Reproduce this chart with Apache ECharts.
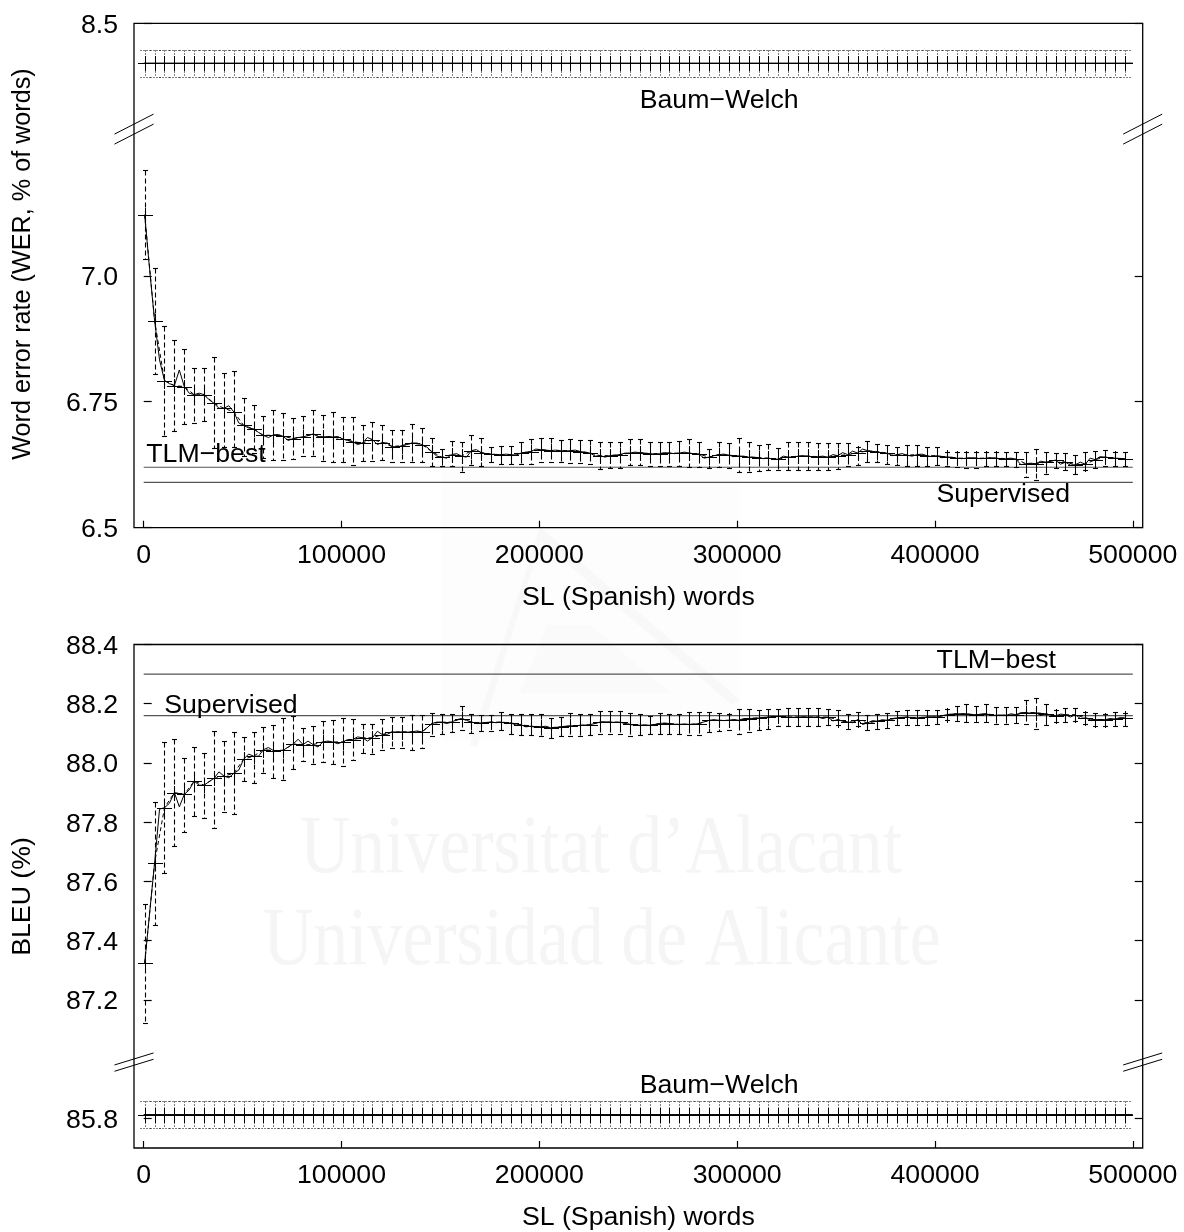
<!DOCTYPE html>
<html>
<head>
<meta charset="utf-8">
<style>html,body{margin:0;padding:0;background:#fff}#c{width:1184px;height:1232px}</style>
<script src="https://cdn.jsdelivr.net/npm/echarts@6/dist/echarts.min.js"></script>
</head>
<body>
<div id="c"></div>
<script>
const xs=[500,5505,10510,15515,20520,25525,30530,35535,40540,45545,
50550,55555,60560,65565,70570,75575,80580,85585,90590,95595,
100600,105605,110610,115615,120620,125625,130630,135635,140640,145645,
150650,155655,160660,165665,170670,175675,180680,185685,190690,195695,
200700,205705,210710,215715,220720,225725,230730,235735,240740,245745,
250750,255755,260760,265765,270770,275775,280780,285785,290790,295795,
300800,305805,310810,315815,320820,325825,330830,335835,340840,345845,
350850,355855,360860,365865,370870,375875,380880,385885,390890,395895,
400900,405905,410910,415915,420920,425925,430930,435935,440940,445945,
450950,455955,460960,465965,470970,475975,480980,485985,490990,495995];

const werMean=[7.121,6.911,6.792,6.782,6.780,6.764,6.764,6.747,6.737,6.730,
6.703,6.696,6.683,6.684,6.681,6.677,6.680,6.686,6.680,6.680,
6.676,6.671,6.668,6.675,6.669,6.661,6.663,6.668,6.665,6.651,
6.640,6.645,6.642,6.653,6.649,6.646,6.645,6.645,6.648,6.651,
6.655,6.653,6.653,6.653,6.651,6.648,6.643,6.643,6.645,6.648,
6.649,6.647,6.647,6.648,6.648,6.648,6.646,6.640,6.645,6.644,
6.642,6.640,6.639,6.638,6.636,6.640,6.642,6.642,6.641,6.640,
6.643,6.645,6.648,6.653,6.651,6.648,6.645,6.644,6.645,6.643,
6.643,6.640,6.638,6.638,6.638,6.638,6.638,6.637,6.636,6.627,
6.627,6.630,6.634,6.630,6.625,6.626,6.635,6.640,6.638,6.637];
const werHi=[7.209,7.015,6.901,6.872,6.854,6.817,6.816,6.838,6.808,6.810,
6.757,6.743,6.721,6.733,6.728,6.718,6.721,6.733,6.724,6.730,
6.720,6.720,6.703,6.709,6.703,6.694,6.694,6.705,6.698,6.679,
6.657,6.673,6.670,6.684,6.679,6.661,6.663,6.663,6.670,6.676,
6.678,6.678,6.674,6.676,6.674,6.675,6.671,6.670,6.670,6.676,
6.676,6.670,6.670,6.671,6.673,6.676,6.670,6.657,6.671,6.668,
6.678,6.670,6.665,6.667,6.658,6.671,6.671,6.671,6.669,6.668,
6.668,6.669,6.661,6.673,6.667,6.665,6.661,6.665,6.665,6.660,
6.660,6.651,6.651,6.651,6.651,6.651,6.651,6.651,6.651,6.651,
6.657,6.651,6.648,6.648,6.645,6.650,6.653,6.655,6.651,6.651];
const werLo=[7.034,6.806,6.681,6.692,6.706,6.708,6.712,6.658,6.661,6.660,
6.642,6.648,6.638,6.635,6.635,6.637,6.643,6.643,6.632,6.630,
6.630,6.625,6.632,6.632,6.635,6.630,6.630,6.631,6.631,6.622,
6.623,6.623,6.610,6.624,6.622,6.630,6.626,6.626,6.626,6.627,
6.630,6.630,6.630,6.628,6.628,6.626,6.616,6.618,6.618,6.624,
6.624,6.622,6.622,6.622,6.623,6.620,6.620,6.618,6.620,6.618,
6.611,6.611,6.612,6.614,6.615,6.615,6.614,6.614,6.614,6.614,
6.616,6.623,6.624,6.631,6.630,6.626,6.625,6.622,6.623,6.622,
6.624,6.622,6.620,6.619,6.619,6.622,6.622,6.622,6.620,6.601,
6.595,6.606,6.618,6.614,6.607,6.614,6.618,6.623,6.622,6.623];
const werThinMid=[7.012,6.833,6.786,6.813,6.767,6.767,6.754,6.737,6.742,6.708,
6.698,6.689,6.679,6.685,6.673,6.679,6.683,6.681,6.681,6.681,
6.673,6.665,6.679,6.665,6.668,6.660,6.665,6.668,6.660,6.642,
6.638,6.647,6.640,6.655,6.647,6.645,6.646,6.644,6.650,6.656,
6.654,6.654,6.652,6.654,6.650,6.642,6.640,6.644,6.648,6.650,
6.648,6.646,6.649,6.647,6.650,6.646,6.638,6.643,6.646,6.641,
6.642,6.640,6.637,6.636,6.642,6.640,6.643,6.640,6.642,6.645,
6.649,6.652,6.656,6.650,6.647,6.643,6.647,6.642,6.646,6.641,
6.639,6.640,6.637,6.639,6.637,6.639,6.635,6.638,6.625,6.628,
6.632,6.632,6.626,6.624,6.630,6.638,6.641,6.639,6.637];
const werTLM=[6.62,6.62];
const werSup=[6.59,6.59];
const werBW=[8.421,8.447,8.394];

const bleuMean=[87.324,87.662,87.849,87.900,87.894,87.939,87.925,87.948,87.956,87.965,
88.013,88.023,88.045,88.042,88.043,88.064,88.062,88.062,88.071,88.071,
88.071,88.079,88.085,88.085,88.096,88.105,88.105,88.105,88.105,88.133,
88.138,88.138,88.150,88.138,88.135,88.138,88.138,88.135,88.129,88.124,
88.122,88.119,88.122,88.125,88.127,88.129,88.138,88.138,88.138,88.130,
88.127,88.127,88.133,88.133,88.130,88.130,88.133,88.144,88.144,88.144,
88.144,88.150,88.152,88.155,88.157,88.155,88.155,88.155,88.155,88.155,
88.146,88.138,88.146,88.135,88.141,88.144,88.152,88.155,88.152,88.155,
88.155,88.163,88.166,88.166,88.163,88.166,88.161,88.161,88.163,88.170,
88.170,88.166,88.159,88.163,88.163,88.152,88.146,88.146,88.148,88.152];
const bleuHi=[87.525,87.869,88.071,88.080,88.017,88.054,88.035,88.108,88.074,88.104,
88.088,88.105,88.122,88.127,88.152,88.157,88.119,88.124,88.141,88.144,
88.152,88.148,88.133,88.133,88.148,88.155,88.155,88.161,88.161,88.169,
88.166,88.166,88.191,88.164,88.163,88.163,88.172,88.164,88.164,88.166,
88.164,88.153,88.155,88.169,88.164,88.164,88.175,88.175,88.175,88.169,
88.164,88.157,88.169,88.166,88.164,88.172,88.172,88.172,88.169,88.166,
88.183,88.183,88.178,88.183,88.183,88.185,88.185,88.185,88.185,88.183,
88.178,88.166,88.171,88.163,88.166,88.169,88.175,88.178,88.178,88.178,
88.178,88.181,88.194,88.198,88.192,88.198,88.189,88.189,88.189,88.211,
88.220,88.200,88.178,88.187,88.185,88.172,88.170,88.166,88.172,88.170];
const bleuLo=[87.122,87.452,87.628,87.721,87.768,87.822,87.813,87.780,87.836,87.827,
87.939,87.934,87.967,87.950,87.941,87.978,88.006,87.998,88.002,87.995,
87.990,88.009,88.032,88.030,88.045,88.052,88.052,88.045,88.052,88.090,
88.099,88.105,88.110,88.102,88.107,88.108,88.110,88.099,88.093,88.093,
88.091,88.085,88.090,88.090,88.090,88.093,88.099,88.099,88.099,88.091,
88.093,88.099,88.097,88.099,88.097,88.093,88.096,88.105,88.107,88.110,
88.097,88.105,88.113,88.116,88.125,88.125,88.125,88.125,88.125,88.127,
88.127,88.116,88.124,88.113,88.116,88.119,88.127,88.127,88.127,88.127,
88.133,88.144,88.142,88.138,88.138,88.138,88.133,88.133,88.135,88.130,
88.116,88.127,88.138,88.138,88.142,88.130,88.124,88.124,88.124,88.125];
const bleuThinMid=[87.494,87.844,87.864,87.852,87.909,87.925,87.937,87.970,87.950,87.976,
88.030,88.023,88.052,88.041,88.054,88.080,88.074,88.054,88.074,88.065,
88.079,88.088,88.074,88.107,88.097,88.104,88.104,88.108,88.118,88.138,
88.133,88.146,88.144,88.135,88.137,88.136,88.134,88.128,88.122,88.120,
88.124,88.120,88.124,88.126,88.128,88.134,88.139,88.137,88.134,88.128,
88.129,88.130,88.135,88.131,88.132,88.131,88.139,88.146,88.143,88.147,
88.150,88.151,88.154,88.156,88.156,88.154,88.156,88.155,88.150,88.142,
88.141,88.136,88.130,88.143,88.146,88.150,88.154,88.152,88.154,88.156,
88.159,88.165,88.166,88.162,88.165,88.160,88.162,88.166,88.170,88.168,
88.160,88.162,88.165,88.155,88.150,88.146,88.147,88.150,88.153];
const bleuTLM=[88.30,88.30];
const bleuSup=[88.16,88.16];
const bleuBW=[85.813,85.859,85.767];

const xLine=[0,500000];
const xTicks=[0,100000,200000,300000,400000,500000];
const werTicks=[6.5,6.75,7,8.5];
const bleuTicks=[85.8,87.2,87.4,87.6,87.8,88,88.2,88.4];
const werLabels=[['Baum\u2212Welch',290900,8.35],['TLM\u2212best',31500,6.648],['Supervised',434500,6.569]];
const bleuLabels=[['TLM\u2212best',431000,88.351],['Supervised',44100,88.2],['Baum\u2212Welch',290900,85.919]];
const werBreak=[7.291,8.290];
const bleuBreak=[85.99,86.99];

const FONT='"Liberation Sans"';
const FS=26.7;
const xMin=-4900,xMax=505000;
const ink='#000';

function xAxis(grid){return {type:'value',gridIndex:grid,min:xMin,max:xMax,
  name:'SL (Spanish) words',nameLocation:'middle',nameGap:56,
  nameTextStyle:{fontFamily:FONT,fontSize:FS,color:ink},
  axisLine:{show:false},splitLine:{show:false},
  axisTick:{show:true,inside:true,length:7,customValues:xTicks,lineStyle:{color:ink,width:1.2}},
  axisLabel:{show:true,customValues:xTicks,margin:14,fontFamily:FONT,fontSize:FS,color:ink,formatter:v=>String(v),hideOverlap:false}};}
function yAxis(grid,pos,min,max,ticks,brk,fmt){return {type:'value',gridIndex:grid,position:pos,min:min,max:max,
  breaks:[{start:brk[0],end:brk[1],gap:0}],breakArea:{show:false},
  axisLine:{show:false},splitLine:{show:false},
  axisTick:{show:true,inside:true,length:8,customValues:ticks,lineStyle:{color:ink,width:1.2}},
  axisLabel:{show:pos==='left',customValues:ticks,margin:16,fontFamily:FONT,fontSize:FS,color:ink,
    formatter:v=>'{t|'+fmt(v)+'}',hideOverlap:false,
    rich:{t:{fontFamily:FONT,fontSize:FS,color:ink,padding:[4,0,0,0]}}}};}

function errSeries(xi,yi,name,rows,opt){
  return {type:'custom',name:name,xAxisIndex:xi,yAxisIndex:yi,silent:true,z:3,
    data:rows,encode:{x:0,y:[1,2,3]},
    renderItem(params,api){
      const x=api.value(0);
      const m=api.coord([x,api.value(1)]),h=api.coord([x,api.value(2)]),l=api.coord([x,api.value(3)]);
      const st={stroke:ink,lineWidth:opt.width,lineDash:opt.dash};
      const px=Math.round(m[0])+.5;
      const my=Math.round(m[1])+.5,hy=Math.round(h[1])+.5,ly=Math.round(l[1])+.5;
      const seg=(a,b,c,d,s)=>({type:'line',shape:{x1:a,y1:b,x2:c,y2:d},style:s,silent:true});
      const solid={stroke:ink,lineWidth:1};
      return {type:'group',children:[
        seg(px,hy,px,ly,st),
        seg(px-opt.cap,hy,px+opt.cap,hy,opt.capStyle||st),
        seg(px-opt.cap,ly,px+opt.cap,ly,opt.capStyle||st),
        seg(px-7.5,my,px+7.5,my,solid),
        seg(px,my-7.5,px,my+7.5,solid)
      ]};
    }};
}
function plainLine(xi,yi,name,data,style,z){
  return {type:'line',name:name,xAxisIndex:xi,yAxisIndex:yi,data:data,showSymbol:false,symbol:'none',
    silent:true,smooth:false,lineStyle:style,z:z,animation:false,clip:true};
}
function textSeries(xi,yi,rows){
  return {type:'custom',name:'labels',xAxisIndex:xi,yAxisIndex:yi,silent:true,z:6,
    data:rows.map(r=>[r[1],r[2]]),encode:{x:0,y:1},clip:false,
    renderItem(params,api){
      const p=api.coord([api.value(0),api.value(1)]);
      return {type:'text',x:p[0],y:p[1]+2,silent:true,style:{text:rows[params.dataIndex][0],
        font:FS+'px '+FONT,fill:ink,align:'center',verticalAlign:'middle'}};
    }};
}
function breakSeries(xi,yi,v,dy,sep){
  return {type:'custom',name:'axis break',xAxisIndex:xi,yAxisIndex:yi,silent:true,z:7,
    data:[[xMin,v],[xMax,v]],encode:{x:0,y:1},clip:false,
    renderItem(params,api){
      const p=api.coord([api.value(0),api.value(1)]);
      const mk=o=>({type:'line',shape:{x1:p[0]-19.5,y1:p[1]+o+dy,x2:p[0]+19.5,y2:p[1]+o-dy},style:{stroke:ink,lineWidth:1},silent:true});
      return {type:'group',children:[mk(-sep),mk(sep)]};
    }};
}
function panel(xi,yi,mean,hi,lo,thinMid,tlm,sup,bw,labels,brk,dy,sep){
  const rows=xs.map((x,i)=>[x,mean[i],hi[i],lo[i]]);
  const thin=[];
  xs.forEach((x,i)=>{thin.push([x,mean[i]]);
    if(i<thinMid.length) thin.push([(x+xs[i+1])/2,thinMid[i]]);});
  const bwRows=xs.map(x=>[x,bw[0],bw[1],bw[2]]);
  return [
    plainLine(xi,yi,'TLM-best',xLine.map((x,i)=>[x,tlm[i]]),{color:'#555',width:1.2},2),
    plainLine(xi,yi,'Supervised',xLine.map((x,i)=>[x,sup[i]]),{color:'#555',width:1.2},2),
    errSeries(xi,yi,'mean',rows,{dash:[5,3],cap:2.5,width:1.1,capStyle:{stroke:ink,lineWidth:1.1}}),
    plainLine(xi,yi,'mean line',rows.map(r=>[r[0],r[1]]),{color:ink,width:1,type:[4,3]},4),
    plainLine(xi,yi,'samples',thin,{color:ink,width:1},4),
    plainLine(xi,yi,'Baum-Welch',xLine.map(x=>[x,bw[0]]),{color:ink,width:1},2),
    errSeries(xi,yi,'Baum-Welch runs',bwRows,{dash:[1,2],cap:5,width:1}),
    textSeries(xi,yi,labels),
    breakSeries(xi,yi,brk[0],dy,sep)
  ];
}

const wmInk='#f5f5f5';
const chart=echarts.init(document.getElementById('c'),null,{renderer:'canvas',width:1184,height:1232});
const yFmtW=v=>v===6.75?'6.75':v.toFixed(1);
const yFmtB=v=>v.toFixed(1);
chart.setOption({
  animation:false,backgroundColor:'#fff',
  textStyle:{fontFamily:FONT},
  grid:[
    {left:134,top:23.3,width:1008.7,height:504.4,show:true,borderColor:ink,borderWidth:1.3,backgroundColor:'transparent',containLabel:false},
    {left:134,top:644.5,width:1008.7,height:504.5,show:true,borderColor:ink,borderWidth:1.3,backgroundColor:'transparent',containLabel:false}
  ],
  xAxis:[xAxis(0),xAxis(1)],
  yAxis:[
    yAxis(0,'left',6.5,8.5,werTicks,werBreak,yFmtW),
    yAxis(0,'right',6.5,8.5,werTicks,werBreak,yFmtW),
    yAxis(1,'left',85.7,88.4,bleuTicks,bleuBreak,yFmtB),
    yAxis(1,'right',85.7,88.4,bleuTicks,bleuBreak,yFmtB)
  ],
  graphic:[
    {type:'rect',z:-11,silent:true,shape:{x:442,y:470,width:298,height:270},style:{fill:'#fdfdfd'}},
    {type:'polygon',z:-10,silent:true,shape:{points:[[540,527],[740,700],[732,705],[541,541],[477,747],[470,745]]},style:{fill:'#f8f8f8'}},
    {type:'polygon',z:-10,silent:true,shape:{points:[[547,625],[590,625],[670,693],[520,693]]},style:{fill:'#fafafa'}},
    {type:'text',z:-10,silent:true,x:300,y:809,scaleX:0.84,style:{text:'Universitat d\u2019Alacant',font:'83px "Liberation Serif"',fill:wmInk}},
    {type:'text',z:-10,silent:true,x:263,y:901,scaleX:0.84,style:{text:'Universidad de Alicante',font:'83px "Liberation Serif"',fill:wmInk}},
    {type:'text',silent:true,x:23,y:264,rotation:Math.PI/2,style:{text:'Word error rate (WER, % of words)',font:'25.2px '+FONT,fill:ink,align:'center',verticalAlign:'middle'}},
    {type:'text',silent:true,x:23,y:896.5,rotation:Math.PI/2,style:{text:'BLEU (%)',font:FS+'px '+FONT,fill:ink,align:'center',verticalAlign:'middle'}}
  ],
  series:[
    ...panel(0,0,werMean,werHi,werLo,werThinMid,werTLM,werSup,werBW,werLabels,werBreak,10,5),
    ...panel(1,2,bleuMean,bleuHi,bleuLo,bleuThinMid,bleuTLM,bleuSup,bleuBW,bleuLabels,bleuBreak,6,3.15)
  ]
});
</script>
</body>
</html>
